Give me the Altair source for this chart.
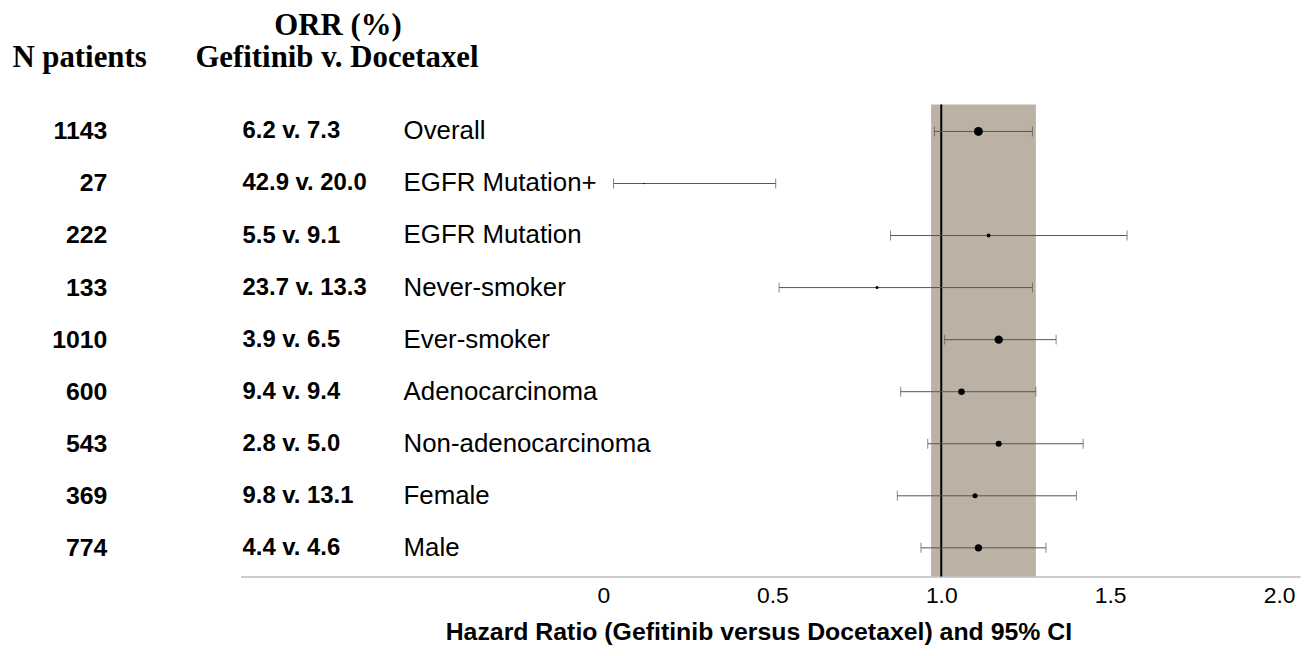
import altair as alt
import pandas as pd

# ---- data ----
subgroups = ["Overall", "EGFR Mutation+", "EGFR Mutation", "Never-smoker", "Ever-smoker",
             "Adenocarcinoma", "Non-adenocarcinoma", "Female", "Male"]
n_patients = [1143, 27, 222, 133, 1010, 600, 543, 369, 774]
orr_text = ["6.2 v. 7.3", "42.9 v. 20.0", "5.5 v. 9.1", "23.7 v. 13.3", "3.9 v. 6.5",
            "9.4 v. 9.4", "2.8 v. 5.0", "9.8 v. 13.1", "4.4 v. 4.6"]
hazard_ratio = [1.11, 0.12, 1.14, 0.81, 1.17, 1.06, 1.17, 1.10, 1.11]
ci_low = [0.98, 0.03, 0.85, 0.52, 1.01, 0.88, 0.96, 0.87, 0.94]
ci_high = [1.27, 0.51, 1.55, 1.27, 1.34, 1.28, 1.42, 1.40, 1.31]
band_range = [0.97, 1.28]
ref_value = [1.0]
tick_values = [0, 0.5, 1.0, 1.5, 2.0]
headers = ["N patients", "ORR (%)", "Gefitinib v. Docetaxel"]
x_title = "Hazard Ratio (Gefitinib versus Docetaxel) and 95% CI"

df = pd.DataFrame({
    "row": list(range(len(subgroups))),
    "subgroup": subgroups,
    "n": n_patients,
    "n_label": [str(v) for v in n_patients],
    "orr": orr_text,
    "hr": hazard_ratio,
    "lo": ci_low,
    "hi": ci_high,
})
band_df = pd.DataFrame({"lo": [band_range[0]], "hi": [band_range[1]], "ref": ref_value})

W, H = 1066, 475
SANS = "Liberation Sans"
SERIF = "Liberation Serif"
xscale = alt.Scale(domain=[-1.074, 2.062], nice=False, zero=False, padding=0)
yscale = alt.Scale(domain=[-0.52, 8.55], reverse=True, nice=False, zero=False, padding=0)
xaxis = alt.Axis(
    values=tick_values,
    labelExpr="datum.value == 0 ? '0' : format(datum.value, '.1f')",
    ticks=False, grid=False,
    domainColor="#cccccc", domainWidth=2,
    labelFont=SANS, labelFontSize=23, labelColor="black", labelPadding=8,
    title=x_title, titleFont=SANS, titleFontSize=25, titleFontWeight="bold",
    titleColor="black", titleX=521, titleY=63, titleAlign="center",
    titleBaseline="alphabetic",
)

def X(field):
    return alt.X(field, scale=xscale, axis=xaxis)

Y = alt.Y("row:Q", scale=yscale, axis=None)

base = alt.Chart(df)

band = alt.Chart(band_df).mark_rect(color="#bbb2a5").encode(
    x=X("lo:Q"), x2="hi:Q", y=alt.value(0), y2=alt.value(H),
)

refline = alt.Chart(band_df).mark_rule(color="black", strokeWidth=2).encode(
    x=X("ref:Q"), y=alt.value(0), y2=alt.value(H),
)

ci_lines = base.mark_rule(color="#555555", strokeWidth=1).encode(
    x=X("lo:Q"), x2="hi:Q", y=Y,
)

cap_lo = base.mark_tick(color="#555555", orient="vertical", size=10, thickness=1).encode(
    x=X("lo:Q"), y=Y,
)
cap_hi = base.mark_tick(color="#555555", orient="vertical", size=10, thickness=1).encode(
    x=X("hi:Q"), y=Y,
)

points = base.mark_circle(color="black", opacity=1).encode(
    x=X("hr:Q"), y=Y,
    size=alt.Size("n:Q", scale=alt.Scale(domain=[0, 1143], range=[0, 80]), legend=None),
)

n_text = base.mark_text(align="right", baseline="middle", font=SANS, fontSize=25,
                        fontWeight="bold", color="black").encode(
    x=alt.value(-134), y=Y, text="n_label:N",
)
orr_col = base.mark_text(align="left", baseline="middle", font=SANS, fontSize=24,
                         fontWeight="bold", color="black").encode(
    x=alt.value(2), y=Y, text="orr:N",
)
sub_col = base.mark_text(align="left", baseline="middle", font=SANS, fontSize=26,
                         color="black").encode(
    x=alt.value(164), y=Y, text="subgroup:N",
)

def header(txt, x, y):
    return alt.Chart(pd.DataFrame({"t": [txt]})).mark_text(
        align="center", baseline="alphabetic", font=SERIF, fontSize=31,
        fontWeight="bold", color="black"
    ).encode(x=alt.value(x), y=alt.value(y), text="t:N")

h1 = header(headers[0], -162, -38)
h2 = header(headers[1], 98, -70)
h3 = header(headers[2], 97, -38)

chart = alt.layer(
    band, refline, ci_lines, cap_lo, cap_hi, points, n_text, orr_col, sub_col, h1, h2, h3
).properties(
    width=W, height=H,
    autosize=alt.AutoSizeParams(type="none"),
    padding={"left": 234, "top": 95, "right": 7, "bottom": 70},
).configure_view(stroke=None)

chart.save("out.html", embed_options={"renderer": "svg", "actions": False})
